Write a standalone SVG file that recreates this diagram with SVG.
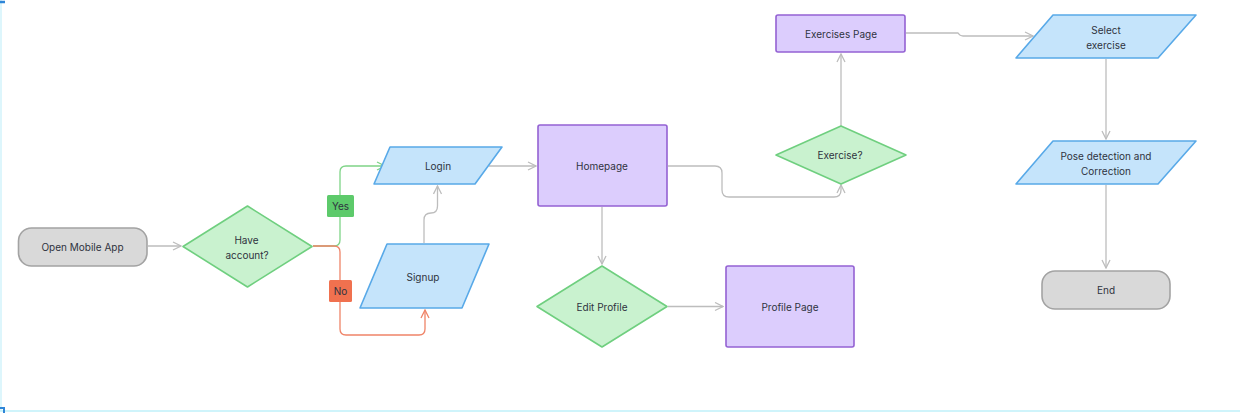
<svg xmlns="http://www.w3.org/2000/svg" width="1240" height="413" viewBox="0 0 1240 413">
<defs>
<style>
text{font-family:Inter,"Noto Sans","Liberation Sans",sans-serif;font-size:10px;fill:#2f3340;text-anchor:middle;dominant-baseline:central}
.term{fill:#d9d9d9;stroke:#a3a3a3;stroke-width:1.6}
.dec{fill:#c9f2cf;stroke:#6fcf7f;stroke-width:1.6;stroke-linejoin:round}
.io{fill:#c5e4fb;stroke:#58a9e8;stroke-width:1.6;stroke-linejoin:round}
.proc{fill:#dccdfd;stroke:#9462d3;stroke-width:1.6}
.c{fill:none;stroke:#bdbdbd;stroke-width:1.3}
.cy{fill:none;stroke:#7fd487;stroke-width:1.3}
.cn{fill:none;stroke:#ef8468;stroke-width:1.3}
</style>
<marker id="ag" viewBox="0 0 10 10" refX="9" refY="5" markerWidth="10" markerHeight="10" markerUnits="userSpaceOnUse" orient="auto"><path d="M1,1 L9,5 L1,9" fill="none" stroke="#bdbdbd" stroke-width="1.3"/></marker>
<marker id="ay" viewBox="0 0 10 10" refX="9" refY="5" markerWidth="10" markerHeight="10" markerUnits="userSpaceOnUse" orient="auto"><path d="M1,1 L9,5 L1,9" fill="none" stroke="#7fd487" stroke-width="1.3"/></marker>
<marker id="an" viewBox="0 0 10 10" refX="9" refY="5" markerWidth="10" markerHeight="10" markerUnits="userSpaceOnUse" orient="auto"><path d="M1,1 L9,5 L1,9" fill="none" stroke="#ef8468" stroke-width="1.3"/></marker>
</defs>
<rect width="1240" height="413" fill="#ffffff"/>
<g id="frame">
<line x1="1" y1="0" x2="1" y2="411" stroke="#d2f3fb" stroke-width="1.5"/>
<line x1="0" y1="411" x2="1240" y2="411" stroke="#bff0fa" stroke-width="1.5"/>
<path d="M0,2 L5,2" stroke="#2f86d8" stroke-width="2.5" fill="none"/>
<path d="M0,408 L4,408 L4,413" stroke="#2f86d8" stroke-width="2" fill="none"/>
</g>
<g id="connectors">
<path class="c" d="M148,246 L181,246" marker-end="url(#ag)"/>
<path class="cy" d="M313,246 L334,246 Q340,246 340,240 L340,172 Q340,166 346,166 L385,166" marker-end="url(#ay)"/>
<path class="cn" d="M313,246 L334,246 Q340,246 340,252 L340,329 Q340,335 346,335 L419,335 Q425,335 425,329 L425,310" marker-end="url(#an)"/>
<path class="c" d="M424,243 L424,220 Q424,213 431,213 Q437.5,213 437.5,206 L437.5,186" marker-end="url(#ag)"/>
<path class="c" d="M489,166 L536,166" marker-end="url(#ag)"/>
<path class="c" d="M602,207 L602,264" marker-end="url(#ag)"/>
<path class="c" d="M668,306.5 L723,306.5" marker-end="url(#ag)"/>
<path class="c" d="M668,166 L715,166 Q722,166 722,173 L722,190 Q722,197 729,197 L834,197 Q841,197 841,190 L841,185" marker-end="url(#ag)"/>
<path class="c" d="M841,126 L841,54" marker-end="url(#ag)"/>
<path class="c" d="M906,33 L958,33 Q960,36 963,36 L1033,36" marker-end="url(#ag)"/>
<path class="c" d="M1106,59 L1106,139" marker-end="url(#ag)"/>
<path class="c" d="M1106,185 L1106,268" marker-end="url(#ag)"/>
</g>
<g id="label-yes"><rect x="327" y="195" width="27" height="22" rx="1.5" fill="#5dca6b"/><text x="340.5" y="206">Yes</text></g>
<g id="label-no"><rect x="329" y="280" width="23" height="22" rx="1.5" fill="#f0714f"/><text x="340.5" y="291">No</text></g>
<g id="open-app"><rect class="term" x="18.5" y="228" width="128.5" height="38" rx="13"/><text x="82.5" y="247">Open Mobile App</text></g>
<g id="have-account"><polygon class="dec" points="183,246.5 247.5,206 312,246.5 247.5,287"/><text x="246.5" y="240">Have</text><text x="247" y="255">account?</text></g>
<g id="login"><polygon class="io" points="374,184 390,147 502,147 475,184"/><text x="438" y="166">Login</text></g>
<g id="signup"><polygon class="io" points="360,308 387,244 489,244 462,308"/><text x="423" y="277">Signup</text></g>
<g id="homepage"><rect class="proc" x="538" y="125" width="129" height="81" rx="2"/><text x="602" y="166">Homepage</text></g>
<g id="edit-profile"><polygon class="dec" points="537,306.5 602,266 667,306.5 602,347"/><text x="602" y="307">Edit Profile</text></g>
<g id="profile-page"><rect class="proc" x="726" y="266" width="128" height="81" rx="2"/><text x="790" y="307">Profile Page</text></g>
<g id="exercise-q"><polygon class="dec" points="776,155 841,126 906,155 841,184"/><text x="840" y="155">Exercise?</text></g>
<g id="exercises-page"><rect class="proc" x="776" y="15" width="129" height="37" rx="2"/><text x="841" y="33.5">Exercises Page</text></g>
<g id="select-exercise"><polygon class="io" points="1016,58 1053,15 1196,15 1158,58"/><text x="1106" y="29.5">Select</text><text x="1106" y="44.5">exercise</text></g>
<g id="pose"><polygon class="io" points="1016,184 1053,141 1196,141 1158,184"/><text x="1106" y="155.5">Pose detection and</text><text x="1106" y="170.5">Correction</text></g>
<g id="end"><rect class="term" x="1042" y="271" width="128" height="38" rx="13"/><text x="1106" y="290">End</text></g>
</svg>
